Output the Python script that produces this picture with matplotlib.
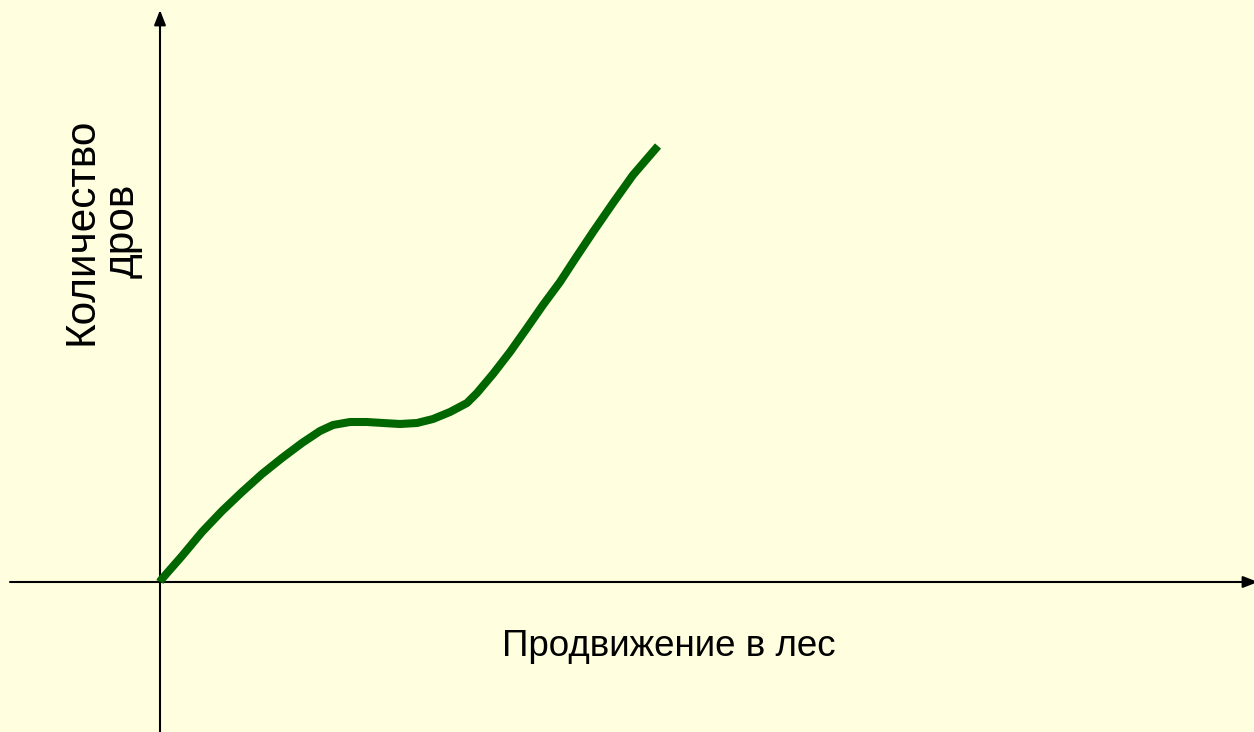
import matplotlib
matplotlib.use("Agg")
import matplotlib.pyplot as plt

# Curve (origin at axes crossing, units ~ pixels)
progress = [0, 1, 22, 42, 62, 82, 102, 122, 142, 160, 173, 190, 207, 223, 240,
            257, 273, 290, 307, 317, 333, 350, 367, 383, 400, 415, 433, 453,
            473, 498]
wood = [0, 2, 26, 50, 71, 90, 108, 124, 139, 151, 157, 160, 160, 159, 158,
        159, 163, 170, 179, 189, 208, 230, 254, 277, 300, 323, 350, 379,
        407, 436]

x_label = "Продвижение в лес"
y_label = "Количество\nдров"

bg = "#FFFFE0"
fig = plt.figure(figsize=(12.54, 7.32), dpi=100, facecolor=bg)
ax = fig.add_axes([0, 0, 1, 1])
ax.set_facecolor(bg)
ax.set_xlim(-160, 1094)
ax.set_ylim(-150, 582)
ax.axis("off")

arrow = dict(arrowstyle="-|>,head_length=0.9,head_width=0.35",
             color="black", lw=1.5, shrinkA=0, shrinkB=0)
# vertical axis
ax.annotate("", xy=(0, 572), xytext=(0, -152), arrowprops=arrow,
            annotation_clip=False)
# horizontal axis
ax.annotate("", xy=(1098, 0), xytext=(-150, 0), arrowprops=arrow,
            annotation_clip=False)

ax.plot(progress, wood, color="#006600", lw=5.8, solid_capstyle="butt",
        solid_joinstyle="round", antialiased=True, zorder=3)

ax.text(509, -65, x_label, ha="center", va="center", fontsize=26.5,
        family="Liberation Sans")
ax.text(-58, 351, y_label, ha="center", va="center", rotation=90,
        fontsize=30.5, family="Liberation Sans", linespacing=1.02)

fig.savefig("out.png", dpi=100, facecolor=bg)
